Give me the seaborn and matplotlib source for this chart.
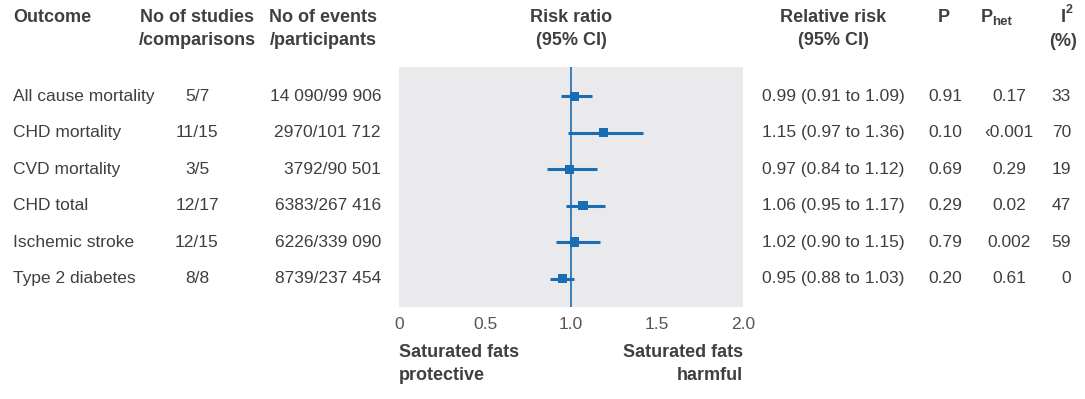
import matplotlib
matplotlib.use("Agg")
import matplotlib.pyplot as plt
import matplotlib.transforms as mtransforms
import pandas as pd
import seaborn as sns

# ==========================================
# DATA
# ==========================================
outcomes = ["All cause mortality", "CHD mortality", "CVD mortality",
            "CHD total", "Ischemic stroke", "Type 2 diabetes"]
studies = ["5/7", "11/15", "3/5", "12/17", "12/15", "8/8"]
events = ["14 090/99 906", "2970/101 712", "3792/90 501",
          "6383/267 416", "6226/339 090", "8739/237 454"]
rr_text = ["0.99 (0.91 to 1.09)", "1.15 (0.97 to 1.36)", "0.97 (0.84 to 1.12)",
           "1.06 (0.95 to 1.17)", "1.02 (0.90 to 1.15)", "0.95 (0.88 to 1.03)"]
p_vals = ["0.91", "0.10", "0.69", "0.29", "0.79", "0.20"]
p_het = ["0.17", "\u20390.001", "0.29", "0.02", "0.002", "0.61"]
i2 = ["33", "70", "19", "47", "59", "0"]

# where the squares and whiskers sit in the drawing
rr_point = [1.02, 1.19, 0.99, 1.07, 1.02, 0.95]
ci_low = [0.94, 0.98, 0.86, 0.97, 0.91, 0.88]
ci_high = [1.12, 1.42, 1.15, 1.20, 1.17, 1.02]

x_ticks = [0, 0.5, 1.0, 1.5, 2.0]
x_tick_labels = ["0", "0.5", "1.0", "1.5", "2.0"]

df = pd.DataFrame({"outcome": outcomes, "rr": rr_point, "lo": ci_low, "hi": ci_high})
df["row"] = range(len(df))

# ==========================================
# STYLE
# ==========================================
sns.set_theme(style="dark")
plt.rcParams["font.family"] = ["Liberation Sans", "DejaVu Sans"]

BLUE = "#1a6db3"
TXT = "#3f3f3f"
BG = "#eaeaec"
W, H = 1085, 399

fig = plt.figure(figsize=(W / 100, H / 100), dpi=100)
ax = fig.add_axes([399 / W, 1 - 307 / H, (743 - 399) / W, (307 - 67) / H])
ax.set_facecolor(BG)

ax.hlines(df["row"], df["lo"], df["hi"], color=BLUE, lw=2.2, zorder=3)
ax.axvline(1.0, color=BLUE, lw=1.2, zorder=2)
sns.scatterplot(data=df, x="rr", y="row", marker="s", s=44, color=BLUE,
                edgecolor="none", zorder=4, ax=ax, legend=False)

ax.set_xlim(0, 2.0)
ax.set_ylim(5.78, -0.8)
ax.set_xticks(x_ticks)
ax.set_xticklabels(x_tick_labels)
ax.set_yticks([])
ax.set_xlabel("")
ax.set_ylabel("")
ax.tick_params(axis="x", direction="in", length=7, width=2, color="white",
               pad=7, labelsize=12.5, labelcolor="#555555")
for s in ax.spines.values():
    s.set_visible(False)

# ==========================================
# TABLE TEXT
# ==========================================
row_tr = mtransforms.blended_transform_factory(fig.transFigure, ax.transData)
fs = 12.5


def fx(px):
    return px / W


def fy(px):
    return 1 - px / H


for i in range(len(outcomes)):
    kw = dict(transform=row_tr, va="center", fontsize=fs, color=TXT)
    fig.text(fx(13), i, outcomes[i], ha="left", **kw)
    fig.text(fx(197), i, studies[i], ha="center", **kw)
    fig.text(fx(381), i, events[i], ha="right", **kw)
    fig.text(fx(833), i, rr_text[i], ha="center", **kw)
    fig.text(fx(945), i, p_vals[i], ha="center", **kw)
    fig.text(fx(1009), i, p_het[i], ha="center", **kw)
    fig.text(fx(1071), i, i2[i], ha="right", **kw)

hk = dict(fontsize=13, fontweight="bold", color=TXT, va="center",
          linespacing=1.45, multialignment="center")
fig.text(fx(13), fy(17), "Outcome", ha="left", **hk)
fig.text(fx(197), fy(29), "No of studies\n/comparisons", ha="center", **hk)
fig.text(fx(323), fy(29), "No of events\n/participants", ha="center", **hk)
fig.text(fx(571), fy(29), "Risk ratio\n(95% CI)", ha="center", **hk)
fig.text(fx(833), fy(29), "Relative risk\n(95% CI)", ha="center", **hk)
fig.text(fx(944), fy(17), "P", ha="center", **hk)
fig.text(fx(981), fy(17), "P", ha="left", **hk)
fig.text(fx(992), fy(22), "het", ha="left", fontsize=9.5, fontweight="bold",
         color=TXT, va="center")
fig.text(fx(1063), fy(17), "I", ha="center", **hk)
fig.text(fx(1066), fy(10), "2", ha="left", fontsize=9, fontweight="bold",
         color=TXT, va="center")
fig.text(fx(1063), fy(42), "(%)", ha="center", **hk)

bk = dict(fontsize=13, fontweight="bold", color=TXT, va="top", linespacing=1.45)
fig.text(fx(399), fy(344), "Saturated fats\nprotective", ha="left", **bk)
fig.text(fx(743), fy(344), "Saturated fats\nharmful", ha="right",
         multialignment="right", **bk)

fig.savefig("out.png", dpi=100)
